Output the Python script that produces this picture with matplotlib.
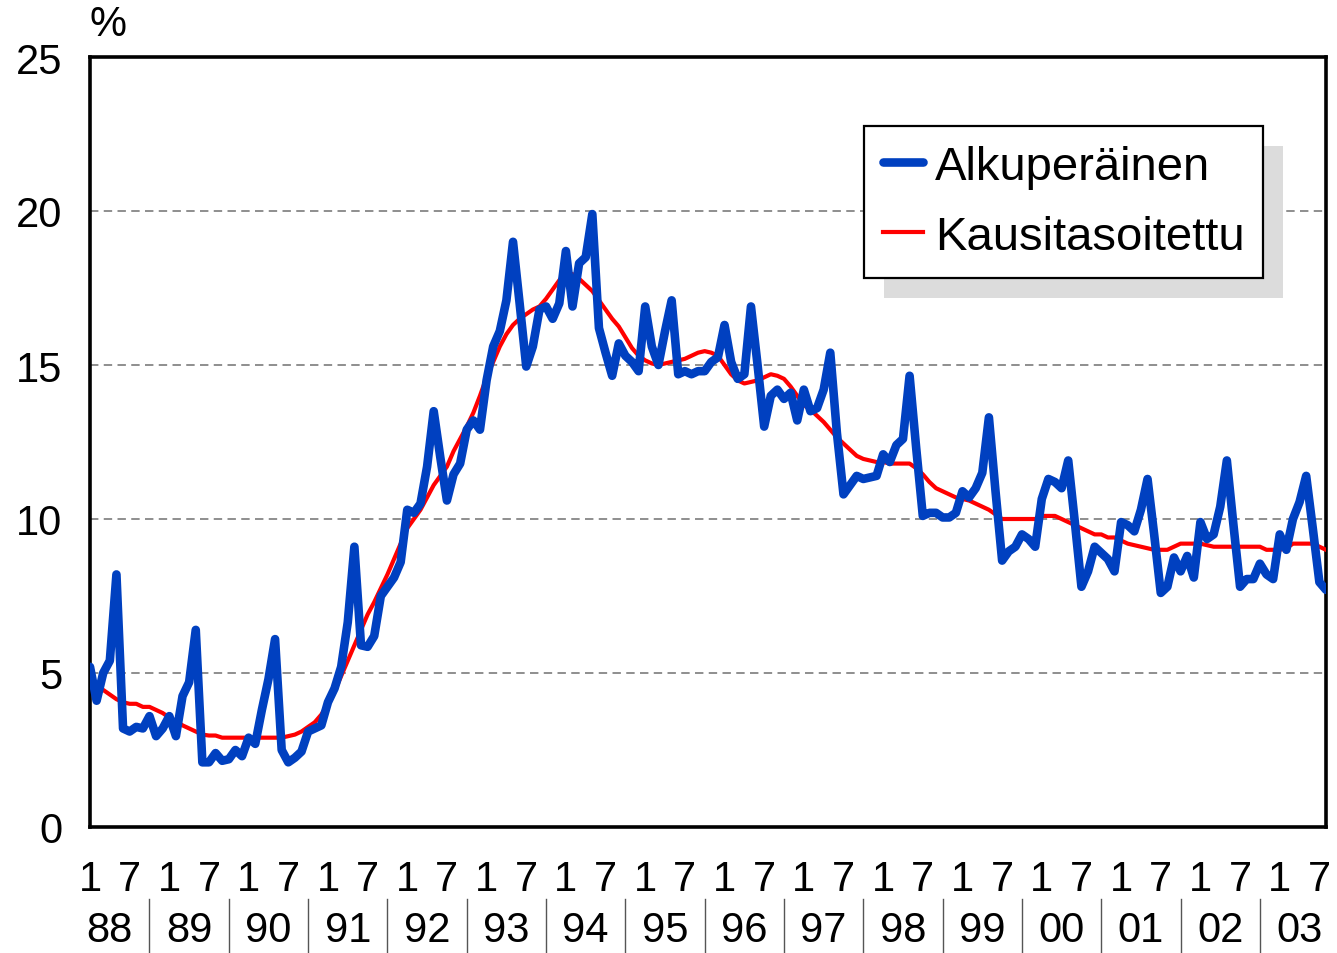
import numpy as np
import matplotlib
matplotlib.use("Agg")
import matplotlib.pyplot as plt
from matplotlib.patches import Rectangle
from matplotlib.transforms import blended_transform_factory

plt.rcParams['font.family'] = ['Liberation Sans', 'DejaVu Sans']

# monthly data, Jan 1988 - Aug 2003
alkuperainen = [
    5.2, 4.1, 5.0, 5.4, 8.2, 3.2, 3.1, 3.25, 3.2, 3.6, 2.95, 3.2,          # 1988
    3.6, 2.95, 4.25, 4.7, 6.4, 2.1, 2.1, 2.4, 2.15, 2.2, 2.5, 2.3,         # 1989
    2.9, 2.7, 3.8, 4.8, 6.1, 2.5, 2.1, 2.25, 2.45, 3.1, 3.2, 3.3,          # 1990
    4.05, 4.5, 5.2, 6.65, 9.1, 5.9, 5.85, 6.2, 7.5, 7.8, 8.1, 8.6,         # 1991
    10.3, 10.2, 10.5, 11.7, 13.5, 12.0, 10.6, 11.45, 11.8, 12.9, 13.2, 12.9,  # 1992
    14.5, 15.6, 16.1, 17.1, 19.0, 17.0, 14.95, 15.6, 16.8, 16.9, 16.5, 17.0,  # 1993
    18.7, 16.9, 18.3, 18.5, 19.9, 16.2, 15.4, 14.65, 15.7, 15.3, 15.1, 14.8,  # 1994
    16.9, 15.6, 15.0, 16.1, 17.1, 14.7, 14.8, 14.7, 14.8, 14.8, 15.1, 15.25,  # 1995
    16.3, 15.1, 14.55, 14.7, 16.9, 15.0, 13.0, 14.0, 14.2, 13.9, 14.1, 13.2,  # 1996
    14.2, 13.5, 13.6, 14.2, 15.4, 12.8, 10.8, 11.1, 11.4, 11.3, 11.35, 11.4,  # 1997
    12.1, 11.85, 12.4, 12.6, 14.65, 12.3, 10.1, 10.2, 10.2, 10.05, 10.05, 10.2,  # 1998
    10.9, 10.7, 11.0, 11.5, 13.3, 10.9, 8.65, 8.95, 9.1, 9.5, 9.35, 9.1,   # 1999
    10.65, 11.3, 11.2, 11.0, 11.9, 9.9, 7.8, 8.3, 9.1, 8.9, 8.7, 8.3,      # 2000
    9.9, 9.8, 9.6, 10.3, 11.3, 9.5, 7.6, 7.8, 8.75, 8.3, 8.8, 8.1,         # 2001
    9.9, 9.35, 9.5, 10.4, 11.9, 9.8, 7.8, 8.05, 8.05, 8.55, 8.2, 8.05,     # 2002
    9.5, 9.0, 10.0, 10.55, 11.4, 9.7, 7.95, 7.7,                            # 2003
]

kausitasoitettu = [
    4.6, 4.55, 4.45, 4.3, 4.15, 4.05, 4.0, 4.0, 3.9, 3.9, 3.8, 3.7,
    3.55, 3.45, 3.3, 3.2, 3.1, 3.0, 2.97, 2.97, 2.9, 2.9, 2.9, 2.9,
    2.9, 2.9, 2.9, 2.9, 2.9, 2.9, 2.95, 3.0, 3.1, 3.25, 3.4, 3.65,
    4.0, 4.4, 4.9, 5.4, 5.9, 6.4, 6.9, 7.3, 7.75, 8.2, 8.7, 9.2,
    9.7, 10.0, 10.3, 10.7, 11.1, 11.4, 11.7, 12.2, 12.6, 13.0, 13.45, 14.0,
    14.6, 15.1, 15.6, 16.0, 16.3, 16.5, 16.65, 16.8, 16.9, 17.15, 17.45, 17.75,
    18.0, 17.95, 17.8, 17.6, 17.4, 17.1, 16.8, 16.5, 16.25, 15.9, 15.55, 15.3,
    15.15, 15.05, 15.0, 15.05, 15.1, 15.15, 15.2, 15.3, 15.4, 15.45, 15.4, 15.3,
    15.0, 14.7, 14.5, 14.4, 14.45, 14.5, 14.6, 14.7, 14.65, 14.55, 14.3, 14.0,
    13.7, 13.55, 13.35, 13.15, 12.9, 12.65, 12.45, 12.25, 12.05, 11.95, 11.9, 11.85,
    11.85, 11.8, 11.8, 11.8, 11.8, 11.65, 11.45, 11.2, 11.0, 10.9, 10.8, 10.7,
    10.65, 10.6, 10.5, 10.4, 10.3, 10.15, 10.0, 10.0, 10.0, 10.0, 10.0, 10.0,
    10.1, 10.1, 10.1, 10.0, 9.9, 9.8, 9.7, 9.6, 9.5, 9.5, 9.4, 9.4,
    9.3, 9.2, 9.15, 9.1, 9.05, 9.0, 9.0, 9.0, 9.1, 9.2, 9.2, 9.2,
    9.2, 9.15, 9.1, 9.1, 9.1, 9.1, 9.1, 9.1, 9.1, 9.1, 9.0, 9.0,
    9.0, 9.05, 9.2, 9.2, 9.2, 9.2, 9.1, 9.0,
]

years = ['88', '89', '90', '91', '92', '93', '94', '95', '96', '97',
         '98', '99', '00', '01', '02', '03']
month_labels = ['1', '7']

x = np.arange(len(alkuperainen))

fig = plt.figure(figsize=(13.37, 9.54), dpi=100)
ax = fig.add_axes([90 / 1337, 126 / 954, 1236 / 1337, 770 / 954])

ax.plot(x, kausitasoitettu, color='#FF0000', lw=3.0, zorder=3,
        solid_joinstyle='round', label='Kausitasoitettu')
ax.plot(x, alkuperainen, color='#0040C0', lw=6.2, zorder=4,
        solid_joinstyle='round', solid_capstyle='round', label='Alkuperäinen')

ax.set_xlim(0, len(x) - 1)
ax.set_ylim(0, 25)
ax.set_yticks([0, 5, 10, 15, 20, 25])
ax.tick_params(axis='y', length=0, labelsize=30, pad=20)
for gy in [5, 10, 15, 20]:
    ax.axhline(gy, color='#707070', lw=1.1, dashes=(5.5, 3.5), zorder=1)

# month ticks
mt = [i for i in x if i % 6 == 0]
ax.set_xticks(mt)
ax.set_xticklabels([month_labels[(i // 6) % 2] for i in mt])
ax.tick_params(axis='x', length=0, labelsize=30, pad=23)

for s in ax.spines.values():
    s.set_linewidth(2.6)
    s.set_color('black')

# year labels and separators
tr = blended_transform_factory(ax.transData, ax.transAxes)
for k, yl in enumerate(years):
    ax.text(12 * k + 3, -0.134, yl, transform=tr, ha='center', va='center',
            fontsize=30)
    if k > 0:
        ax.plot([12 * k - 3, 12 * k - 3], [-0.093, -0.163], transform=tr,
                color='#555555', lw=1.0, clip_on=False)

fig.text(108 / 1337, 1 - 25 / 954, '%', ha='center', va='center', fontsize=30)

handles, labels = ax.get_legend_handles_labels()
leg = ax.legend(handles[::-1], labels[::-1], loc='upper left',
                bbox_to_anchor=((864 - 90) / 1236, (828 - 127) / 770),
                fontsize=34, frameon=True, fancybox=False, framealpha=1,
                edgecolor='black', handlelength=0.85, handletextpad=0.25,
                borderpad=0.4, labelspacing=0.55, borderaxespad=0)
leg.get_frame().set_linewidth(1.6)
leg.set_zorder(10)

fig.canvas.draw()
bb = leg.get_window_extent()
shadow = Rectangle((bb.x0 + 20, bb.y0 - 20), bb.width, bb.height,
                   transform=None, facecolor='#DCDCDC', edgecolor='none',
                   zorder=9)
ax.add_artist(shadow)

fig.savefig('out.png', dpi=100)
